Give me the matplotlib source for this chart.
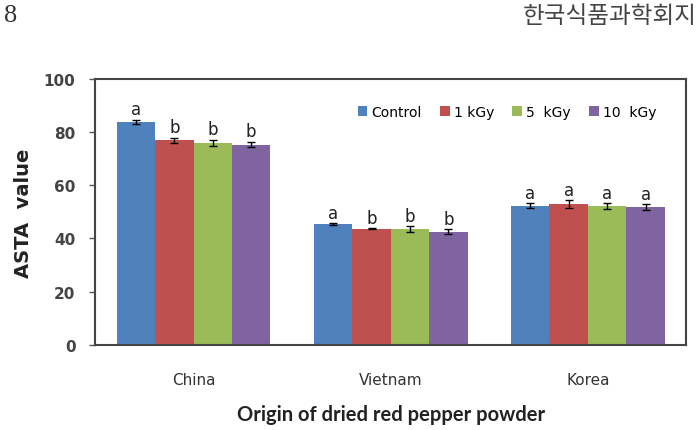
import matplotlib.pyplot as plt
import numpy as np

origins = ['China', 'Vietnam', 'Korea']
doses = ['Control', '1 kGy', '5  kGy', '10  kGy']
colors = ['#4F81BD', '#C0504D', '#9BBB59', '#8064A2']

# ASTA value per dose, ordered China, Vietnam, Korea
values = {
    'Control': [84.0, 45.3, 52.3],
    '1 kGy': [77.0, 43.6, 52.8],
    '5  kGy': [75.9, 43.6, 52.2],
    '10  kGy': [75.3, 42.6, 51.8],
}
errors = {
    'Control': [0.7, 0.4, 1.0],
    '1 kGy': [1.0, 0.2, 1.5],
    '5  kGy': [1.2, 1.0, 1.0],
    '10  kGy': [1.0, 0.9, 1.0],
}
letters = {
    'Control': ['a', 'a', 'a'],
    '1 kGy': ['b', 'b', 'a'],
    '5  kGy': ['b', 'b', 'a'],
    '10  kGy': ['b', 'b', 'a'],
}

fig = plt.figure(figsize=(7, 4.31), dpi=100)
ax = fig.add_axes([0.1357, 0.198, 0.845, 0.616])

x = np.arange(len(origins))
width = 0.195
for i, d in enumerate(doses):
    pos = x + (i - 1.5) * width
    ax.bar(pos, values[d], width, color=colors[i], label=d,
           yerr=errors[d], capsize=3,
           error_kw=dict(ecolor='black', elinewidth=1, capthick=1))
    for p, v, e, t in zip(pos, values[d], errors[d], letters[d]):
        ax.text(p, v + e + 0.6, t, ha='center', va='bottom',
                fontsize=12, color='#222222')

ax.set_xlim(-0.5, 2.5)
ax.set_ylim(0, 100)
ax.set_yticks(range(0, 101, 20))
ax.set_xticks(x)
ax.set_xticklabels(origins, fontsize=11, color='#333333')
ax.tick_params(axis='x', length=0, pad=20)
ax.tick_params(axis='y', direction='out', length=4, width=1, color='#555555',
               labelsize=11, labelcolor='#444444', pad=10)
for lab in ax.get_yticklabels():
    lab.set_fontweight('bold')
for s in ax.spines.values():
    s.set_color('#444444')
    s.set_linewidth(1.5)

ax.set_ylabel('ASTA  value', fontsize=14, fontweight='bold', color='#222222',
              labelpad=8)
ax.set_xlabel('Origin of dried red pepper powder', fontsize=14.5,
              fontweight='bold', color='#222222', labelpad=12,
              family='Lato')

ax.legend(loc='upper right', bbox_to_anchor=(0.97, 0.95), ncol=4,
          frameon=False, fontsize=10, handlelength=0.7, handleheight=0.7,
          handletextpad=0.3, columnspacing=1.3)

fig.text(0.006, 0.962, '8', fontsize=19, family='Liberation Serif',
         va='center', ha='left', color='#333333')
fig.text(0.996, 0.962, '한국식품과학회지', fontsize=17,
         family=['Noto Sans CJK KR', 'DejaVu Sans'],
         va='center', ha='right', color='#444444')

plt.savefig('out.png', dpi=100)
